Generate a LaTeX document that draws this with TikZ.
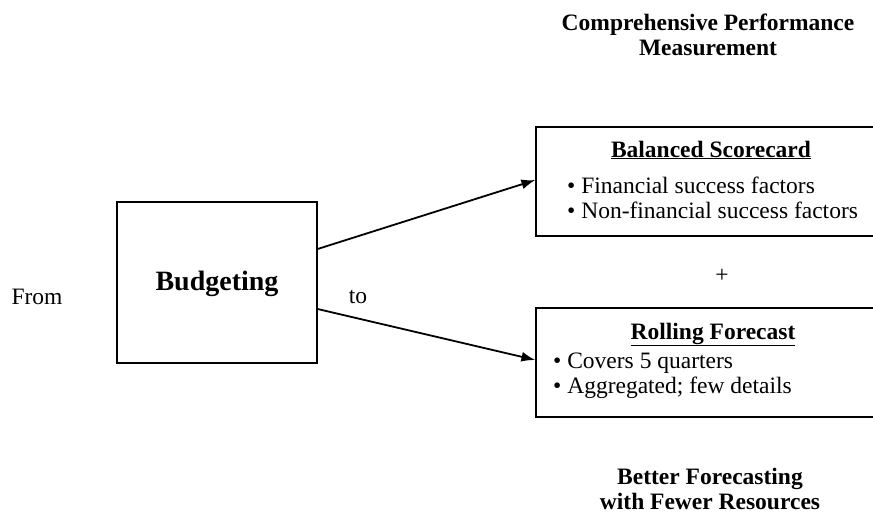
\documentclass[tikz,border=0pt]{standalone}
\usepackage{fontspec}
\setmainfont{Liberation Serif}
\usetikzlibrary{arrows.meta}
\tikzset{
  box/.style={draw, line width=1.2pt, inner sep=0pt, rectangle},
  txt/.style={inner sep=0pt, font=\fontsize{23.5}{25}\selectfont},
  btxt/.style={inner sep=0pt, align=center, font=\fontsize{23.5}{25}\selectfont\bfseries},
  conn/.style={line width=1.8pt, -{Latex[length=14pt,width=10pt]}}
}
\begin{document}
\begin{tikzpicture}[x=1pt,y=-1pt]
\useasboundingbox (0,0) rectangle (873,515);
% title
\node[btxt] (title) at (708,35) {Comprehensive Performance\\Measurement};
% budgeting
\node[box, minimum width=200pt, minimum height=161pt] (bud) at (217,282.5) {};
\node[inner sep=0pt, font=\fontsize{28}{30}\selectfont\bfseries] (budtxt) at (217,284) {Budgeting};
\node[txt] (from) at (37,297) {From};
\node[txt] (to) at (358,297) {to};
% balanced scorecard
\node[box, minimum width=339pt, minimum height=109pt] (bs) at (705.5,181.5) {};
\node[txt, anchor=base, font=\fontsize{23.5}{25}\selectfont\bfseries] (bst) at (711,157) {\underline{Balanced Scorecard}};
\node[txt, anchor=base west] (bs1) at (567,193) {• Financial success factors};
\node[txt, anchor=base west] (bs2) at (567,218) {• Non-financial success factors};
% plus
\node[txt] (plus) at (722,276) {+};
% rolling forecast
\node[box, minimum width=339pt, minimum height=109pt] (rf) at (705.5,362.5) {};
\node[txt, anchor=base, font=\fontsize{23.5}{25}\selectfont\bfseries] (rft) at (713,339) {\underline{Rolling Forecast}};
\node[txt, anchor=base west] (rf1) at (553,368) {• Covers 5 quarters};
\node[txt, anchor=base west] (rf2) at (553,393) {• Aggregated; few details};
% bottom
\node[btxt] (bottom) at (710,489) {Better Forecasting\\with Fewer Resources};
% arrows
\draw[conn] ([yshift=33.5pt]bud.east) -- ([yshift=1.5pt]bs.west);
\draw[conn] ([yshift=-26.5pt]bud.east) -- ([yshift=2.5pt]rf.west);
\end{tikzpicture}
\end{document}
